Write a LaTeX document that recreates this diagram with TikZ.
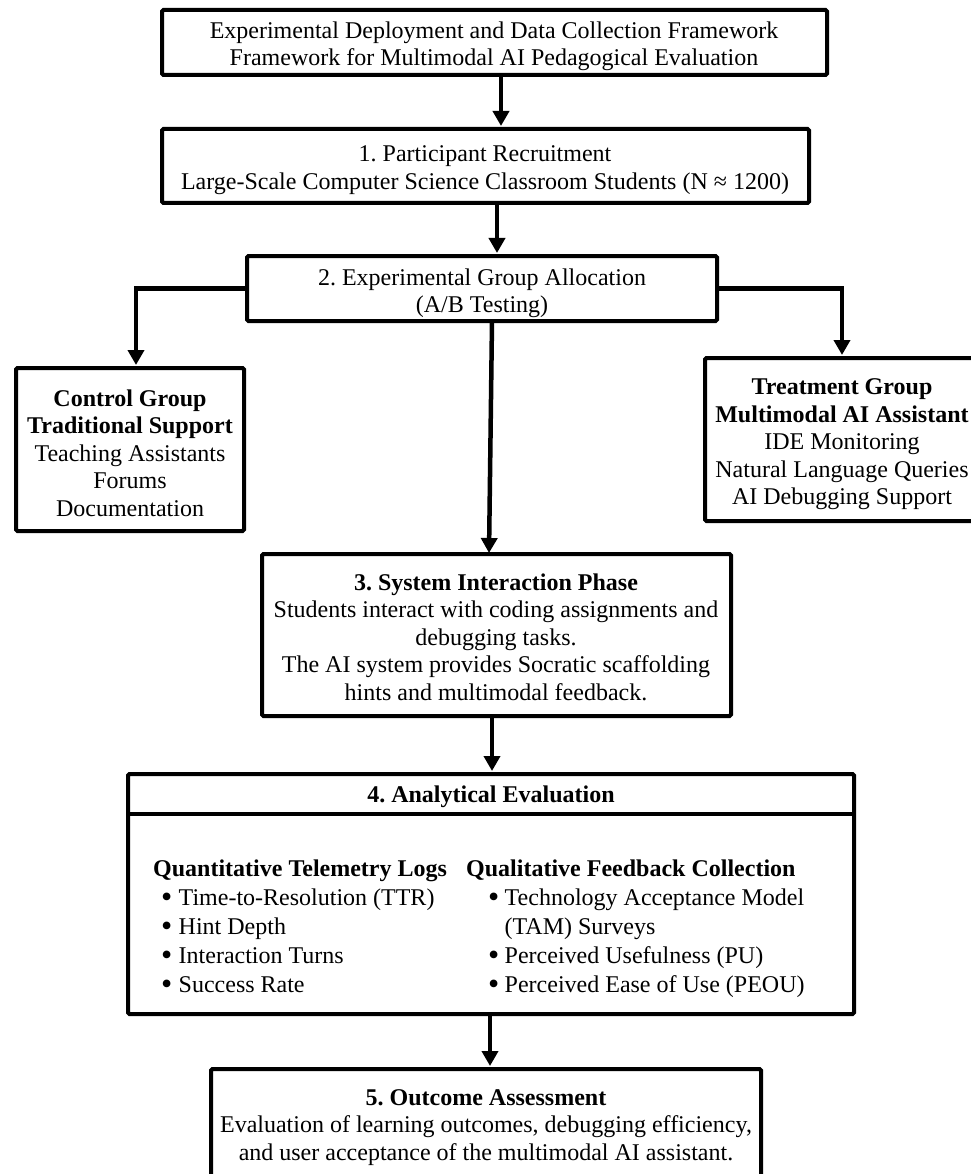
\documentclass[tikz,border=0pt]{standalone}
\usepackage{fontspec}
\setmainfont{Liberation Serif}
\usetikzlibrary{arrows.meta}
\frenchspacing
\newcommand{\bigbul}{\raisebox{-2.6pt}{\fontsize{32}{32}\selectfont •}}
\begin{document}
\begin{tikzpicture}[x=1pt,y=-1pt,
  box/.style={draw, line width=4pt, rounded corners=1.5pt, inner sep=0pt},
  txt/.style={font=\fontsize{24}{27.5}\selectfont, inner sep=0pt, align=center},
  bul/.style={txt, anchor=base west, align=left},
  arr/.style={line width=4.5pt, -{Triangle[length=15pt,width=16pt]}, shorten >=1pt},
]
\useasboundingbox (0,0) rectangle (970,1174);

% boxes
\node[box, minimum width=665pt, minimum height=65pt] (title) at (494.5,42.5) {};
\node[txt] (titleT) at (494,46.5)
  {Experimental Deployment and Data Collection Framework\\Framework for Multimodal AI Pedagogical Evaluation};

\node[box, minimum width=647pt, minimum height=74pt] (recruit) at (485.5,166) {};
\node[txt] (recruitT) at (485,170)
  {1. Participant Recruitment\\Large-Scale Computer Science Classroom Students (N ≈ 1200)};

\node[box, minimum width=470pt, minimum height=65pt] (alloc) at (482,288.5) {};
\node[txt] (allocT) at (482,293.5)
  {2. Experimental Group Allocation\\(A/B Testing)};

\node[box, minimum width=228pt, minimum height=163pt] (control) at (130,449.5) {};
\node[txt] (controlT) at (130,453)
  {\textbf{Control Group}\\\textbf{Traditional Support}\\Teaching Assistants\\Forums\\Documentation};

\node[box, minimum width=274pt, minimum height=163pt] (treat) at (842,439.5) {};
\node[txt] (treatT) at (842,444.5)
  {\textbf{Treatment Group}\\\textbf{Multimodal AI Assistant}\\IDE Monitoring\\Natural Language Queries\\AI Debugging Support};

\node[box, minimum width=469pt, minimum height=162pt] (interact) at (496.5,635) {};
\node[txt] (interactT) at (496,637)
  {\textbf{3. System Interaction Phase}\\Students interact with coding assignments and\\debugging tasks.\\The AI system provides Socratic scaffolding\\hints and multimodal feedback.};

\node[box, minimum width=726pt, minimum height=240pt] (eval) at (491,894) {};

\node[box, minimum width=550pt, minimum height=113pt] (outcome) at (486,1125.5) {};
\node[txt] (outcomeT) at (486,1127.5)
  {\textbf{5. Outcome Assessment}\\Evaluation of learning outcomes, debugging efficiency,\\and user acceptance of the multimodal AI assistant.};

% evaluation box contents
\node[txt] (evalhead) at (491,797) {\textbf{4. Analytical Evaluation}};
\coordinate (divy) at (0,814);
\draw[line width=4pt] (eval.west |- divy) -- (eval.east |- divy);

\node[bul] (qh) at (153,876) {\textbf{Quantitative Telemetry Logs}};
\node[bul] (q1) at (161,905) {\makebox[17.5pt][l]{\bigbul}Time-to-Resolution (TTR)};
\node[bul] (q2) at (161,934) {\makebox[17.5pt][l]{\bigbul}Hint Depth};
\node[bul] (q3) at (161,963) {\makebox[17.5pt][l]{\bigbul}Interaction Turns};
\node[bul] (q4) at (161,992) {\makebox[17.5pt][l]{\bigbul}Success Rate};

\node[bul] (lh) at (466,876) {\textbf{Qualitative Feedback Collection}};
\node[bul] (l1) at (488,905) {\makebox[16.5pt][l]{\bigbul}Technology Acceptance Model};
\node[bul] (l1b) at (504.5,934) {(TAM) Surveys};
\node[bul] (l2) at (488,963) {\makebox[16.5pt][l]{\bigbul}Perceived Usefulness (PU)};
\node[bul] (l3) at (488,992) {\makebox[16.5pt][l]{\bigbul}Perceived Ease of Use (PEOU)};

% connectors
\coordinate (x1) at (501,0);
\coordinate (x2) at (497,0);
\coordinate (x3) at (492,0);
\coordinate (x4) at (490,0);
\coordinate (xl) at (136,0);
\coordinate (mtop) at (492,321);
\coordinate (mbot) at (489,554);

\draw[arr] (title.south -| x1) -- (recruit.north -| x1);
\draw[arr] (recruit.south -| x2) -- (alloc.north -| x2);
\draw[arr] (mtop) -- (mbot);
\draw[arr] (alloc.west) -| (control.north -| xl);
\draw[arr] (alloc.east) -| (treat.north);
\draw[arr] (interact.south -| x3) -- (eval.north -| x3);
\draw[arr] (eval.south -| x4) -- (outcome.north -| x4);
\end{tikzpicture}
\end{document}
